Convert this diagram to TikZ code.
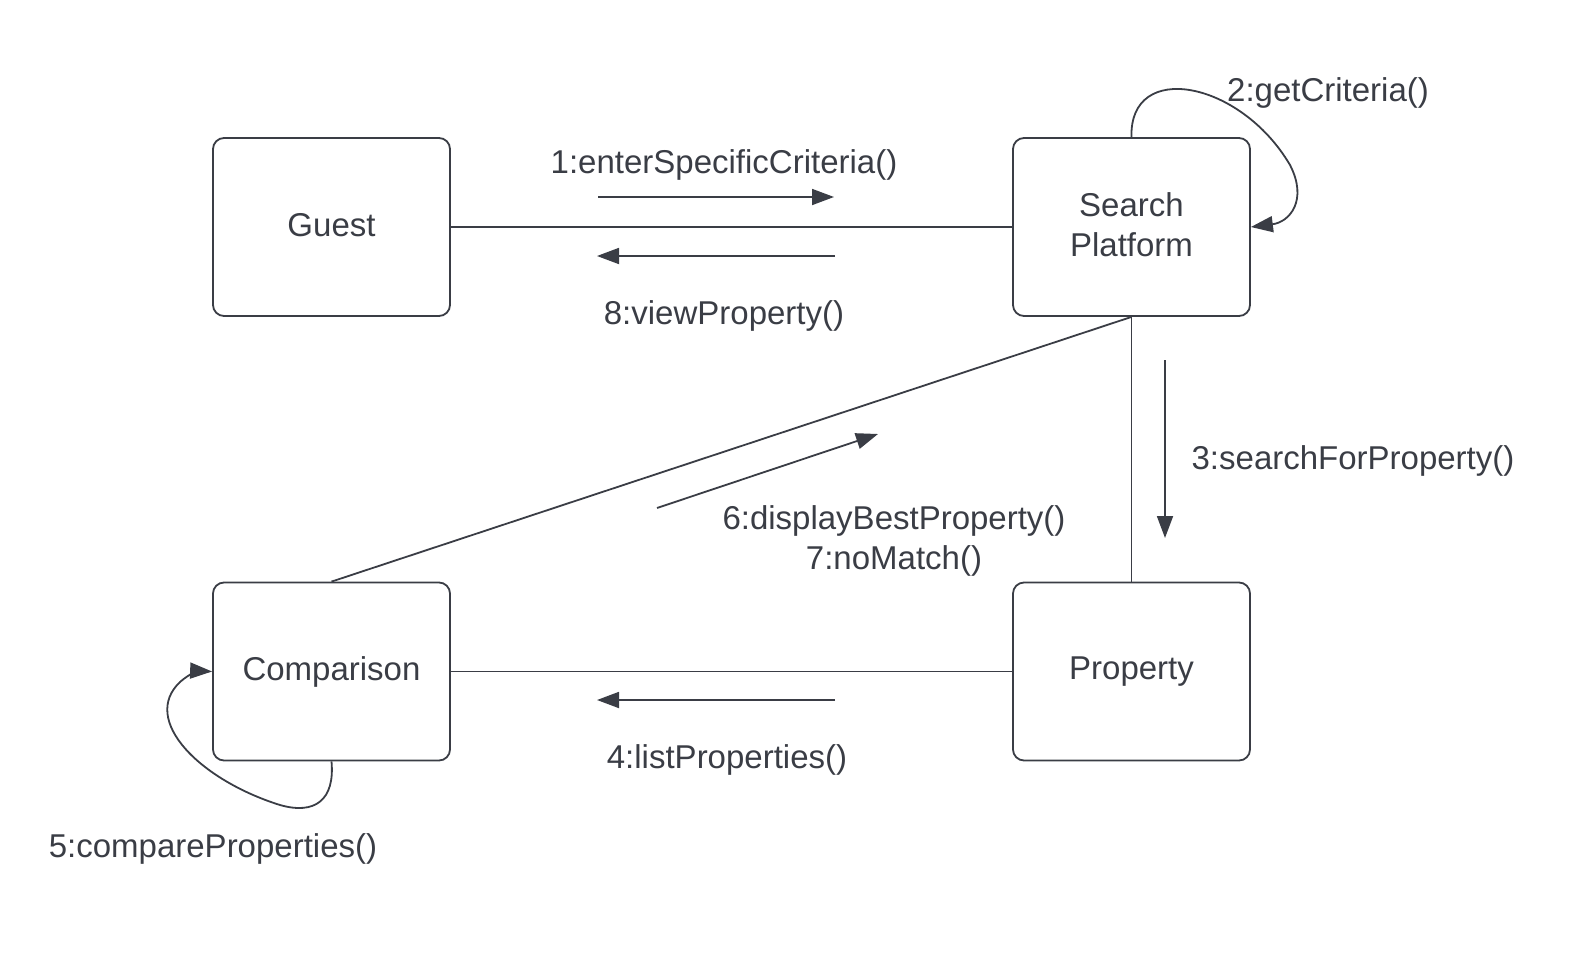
\documentclass[tikz,border=0pt]{standalone}
\usepackage{fontspec}
\setmainfont{Liberation Sans}
\usetikzlibrary{arrows.meta}
\definecolor{ink}{HTML}{3A3D45}
\newcommand{\up}[1]{\raisebox{4pt}{#1}}
\begin{document}
\begin{tikzpicture}[x=1pt,y=-1pt,
  box/.style={draw=ink,line width=1.8pt,rounded corners=11pt,minimum width=237pt,minimum height=178pt,inner sep=0pt,text=ink,font=\fontsize{33}{40}\selectfont,align=center},
  lbl/.style={text=ink,font=\fontsize{33}{40}\selectfont,inner sep=0pt,align=center},
  conn/.style={draw=ink,line width=1.8pt},
  msg/.style={draw=ink,line width=1.8pt,-{Triangle[length=22pt,width=16pt]}}]
\useasboundingbox (0,0) rectangle (1571,953);
\node[box] (guest) at (331.5,227) {\up{Guest}};
\node[box] (search) at (1131.5,227) {\up{Search}\\\up{Platform}};
\node[box] (comp) at (331.5,671.5) {\up{Comparison}};
\node[box] (prop) at (1131.5,671.5) {\up{Property}};
% connectors
\draw[conn] (guest.east) -- (search.west);
\draw[conn] (comp.east) -- (prop.west);
\draw[conn] (search.south) -- (prop.north);
\draw[conn] (search.south) -- (comp.north);
% message arrows
\coordinate (a1s) at (598,197); \coordinate (a1e) at (834,197);
\coordinate (a8s) at (835,256); \coordinate (a8e) at (597,256);
\coordinate (a3s) at (1165,360); \coordinate (a3e) at (1165,538);
\coordinate (a4s) at (835,700); \coordinate (a4e) at (597,700);
\coordinate (a6s) at (657,508); \coordinate (a6e) at (878,434);
\draw[msg] (a1s) -- (a1e);
\draw[msg] (a8s) -- (a8e);
\draw[msg] (a3s) -- (a3e);
\draw[msg] (a4s) -- (a4e);
\draw[msg] (a6s) -- (a6e);
% self loops
\draw[msg] (search.north) .. controls (1129,60) and (1240,80) .. (1290,165)
  .. controls (1308,200) and (1290,222) .. (search.east);
\draw[msg] (comp.south) .. controls (335,800) and (315,815) .. (280,805)
  .. controls (200,780) and (140,720) .. (180,682) .. controls (190,673) and (200,671) .. (comp.west);
% labels
\node[lbl] (l1) at (724,165) {1:enterSpecificCriteria()};
\node[lbl] (l8) at (724,316) {8:viewProperty()};
\node[lbl] (l2) at (1328,93) {2:getCriteria()};
\node[lbl] (l3) at (1353,461) {3:searchForProperty()};
\node[lbl] (l6) at (894,541) {6:displayBestProperty()\\7:noMatch()};
\node[lbl] (l4) at (727,760) {4:listProperties()};
\node[lbl] (l5) at (213,849) {5:compareProperties()};
\end{tikzpicture}
\end{document}
